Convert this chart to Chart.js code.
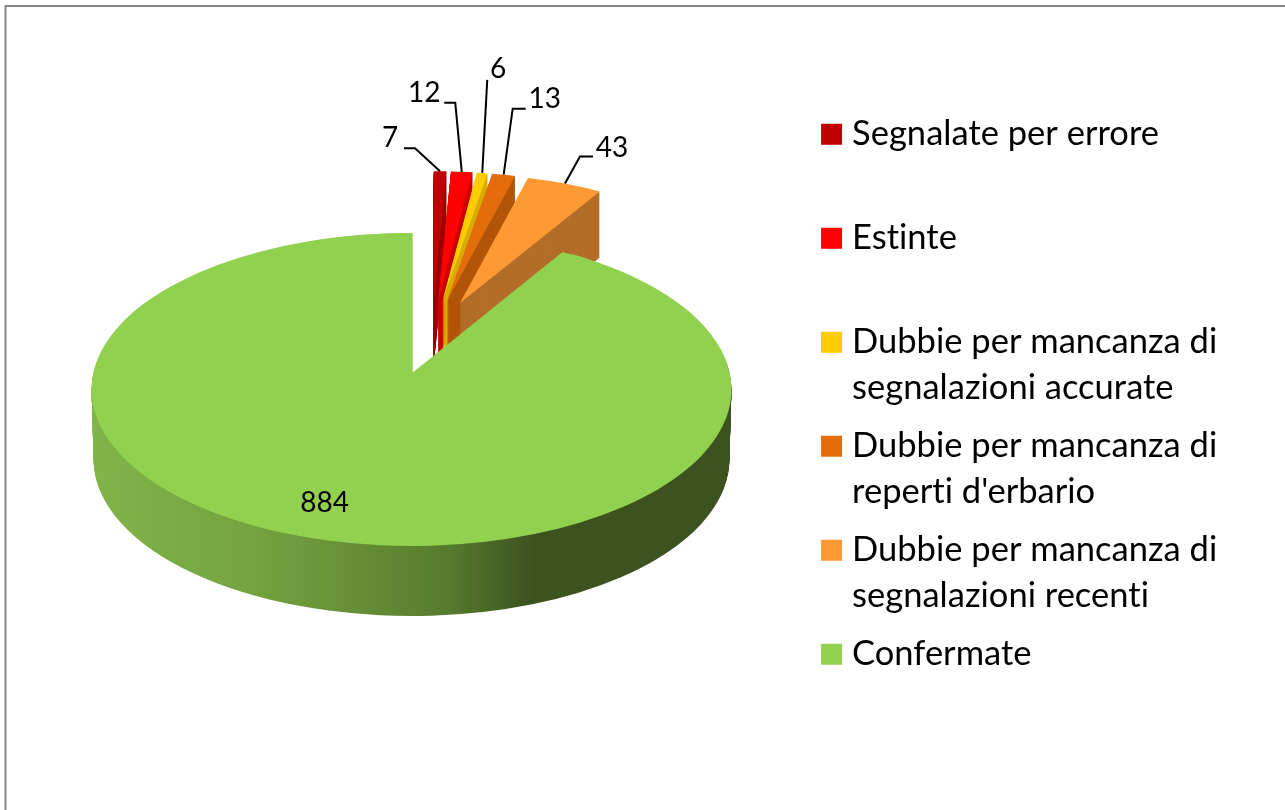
<!DOCTYPE html>
<html>
<head>
<meta charset="utf-8">
<title>Specie</title>
<script src="https://cdn.jsdelivr.net/npm/chart.js@4"></script>
<style>
  html, body { margin: 0; padding: 0; background: #fff; }
  canvas { display: block; }
</style>
</head>
<body>
<canvas id="pieChart" width="1285" height="810"></canvas>
<script>
const categories = [
    ['Segnalate per errore', ''],
    ['Estinte', ''],
    ['Dubbie per mancanza di', 'segnalazioni accurate'],
    ['Dubbie per mancanza di', "reperti d'erbario"],
    ['Dubbie per mancanza di', 'segnalazioni recenti'],
    ['Confermate', '']
];
const values = [7, 12, 6, 13, 43, 884];
const topColors = ['#c00000', '#ff0000', '#ffcc00', '#e46c0a', '#ff9933', '#92d050'];
const wallColors = ['#9c0000', '#cc0000', '#d9ad00', '#b25508', '#b36d28', '#3c5320'];

// 3D look: the big slice sits in front, the small ones are further back so smaller
const GREEN = 5;
const PIE = { x: 432, y: 337, explode: 74, tilt: 0.497 };
const FRONT = { x: 411.5, y: 389.5, rx: 320, ry: 156.5, depth: 70 };
const BACK = { rx: 278, ry: 129, depth: 66 };

// leader line points and text position, relative to the outer edge of the slice
const labelLayout = [
    { line: [[-25, -23], [-36, -23]], text: [-50, -33] },
    { line: [[-6.5, -69], [-17.5, -69]], text: [-37.5, -79] },
    { line: [[5, -93]], text: [16, -104] },
    { line: [[9, -66], [22, -66]], text: [41, -76] },
    { line: [[15, -27], [28, -27]], text: [47, -36] }
];

function drawArc(ctx, arc, color, x, y, rx, ry) {
    const copy = Object.create(arc);
    copy.options = {
        backgroundColor: color, borderColor: color, borderWidth: 0, borderAlign: 'center',
        borderRadius: 0, offset: 0, spacing: 0, circular: true
    };
    ctx.save();
    ctx.translate(x, y);
    ctx.scale(rx / arc.outerRadius, ry / arc.outerRadius);
    ctx.translate(-arc.x, -arc.y);
    copy.draw(ctx);
    ctx.restore();
}

function explodedCenter(arc) {
    const mid = (arc.startAngle + arc.endAngle) / 2;
    return {
        x: PIE.x + PIE.explode * Math.cos(mid),
        y: PIE.y + PIE.explode * Math.sin(mid) * PIE.tilt,
        mid: mid
    };
}

function greenWallGradient(ctx, arc) {
    const toUser = x => arc.x + (x - FRONT.x) * arc.outerRadius / FRONT.rx;
    const g = ctx.createLinearGradient(toUser(92), 0, toUser(731), 0);
    g.addColorStop(0, '#80b449');
    g.addColorStop(0.25, '#74a33f');
    g.addColorStop(0.41, '#658f37');
    g.addColorStop(0.56, '#567a2e');
    g.addColorStop(0.69, '#3c5320');
    g.addColorStop(1, '#3c5320');
    return g;
}

const pie3d = {
    id: 'pie3d',
    beforeDraw(chart) {
        // no "ti" ligature in Lato, the reference has none
        chart.ctx.letterSpacing = '0.01px';
    },
    beforeDatasetsDraw(chart) {
        const ctx = chart.ctx;
        const arcs = chart.getDatasetMeta(0).data;

        // small slices, left to right, each one over the wall of the previous one
        arcs.forEach((arc, i) => {
            if (i === GREEN) return;
            const c = explodedCenter(arc);
            for (let dy = BACK.depth; dy > 0; dy--) {
                drawArc(ctx, arc, wallColors[i], c.x, c.y + dy, BACK.rx, BACK.ry);
            }
            drawArc(ctx, arc, topColors[i], c.x, c.y, BACK.rx, BACK.ry);
        });

        // big slice: wall, then top. The second copy moves the tip up to where it is seen
        const big = arcs[GREEN];
        const wall = greenWallGradient(ctx, big);
        for (let dy = FRONT.depth; dy > 0; dy--) {
            drawArc(ctx, big, wall, FRONT.x, FRONT.y + dy, FRONT.rx - dy * 0.03, FRONT.ry);
        }
        drawArc(ctx, big, topColors[GREEN], FRONT.x, FRONT.y, FRONT.rx, FRONT.ry);
        const tip = explodedCenter(big);
        drawArc(ctx, big, topColors[GREEN], tip.x, tip.y, FRONT.rx * 0.93, tip.y - 233);
        return false;
    },
    // afterDatasetsDraw is skipped when beforeDatasetsDraw returns false
    afterDraw(chart) {
        const ctx = chart.ctx;
        const arcs = chart.getDatasetMeta(0).data;
        ctx.save();
        ctx.font = '28px Lato';
        ctx.textAlign = 'center';
        ctx.textBaseline = 'middle';
        ctx.fillStyle = '#000';
        ctx.strokeStyle = '#000';
        ctx.lineWidth = 2;
        labelLayout.forEach((lay, i) => {
            const c = explodedCenter(arcs[i]);
            const ax = c.x + BACK.rx * Math.cos(c.mid);
            const ay = c.y + BACK.ry * Math.sin(c.mid);
            ctx.beginPath();
            ctx.moveTo(ax, ay);
            lay.line.forEach(p => ctx.lineTo(ax + p[0], ay + p[1]));
            ctx.stroke();
            ctx.fillText(String(values[i]), ax + lay.text[0], ay + lay.text[1]);
        });
        const tip = explodedCenter(arcs[GREEN]);
        ctx.fillText(String(values[GREEN]), tip.x - 88, tip.y + 130);
        ctx.restore();

        // chart frame, only top and left are inside the picture
        ctx.save();
        ctx.strokeStyle = '#868686';
        ctx.lineWidth = 2;
        ctx.strokeRect(5.5, 6, 1400, 900);
        ctx.restore();
    }
};

new Chart(document.getElementById('pieChart'), {
    type: 'pie',
    data: {
        labels: categories,
        datasets: [{
            data: values,
            backgroundColor: topColors,
            borderWidth: 0
        }]
    },
    options: {
        responsive: false,
        animation: false,
        layout: { padding: { top: 104, right: 58, bottom: 0, left: 0 } },
        plugins: {
            tooltip: { enabled: false },
            legend: {
                position: 'right',
                align: 'start',
                labels: {
                    color: '#000',
                    font: { family: 'Lato', size: 34.5, lineHeight: 1.319 },
                    padding: 13,
                    boxWidth: 6.5,
                    boxHeight: 6.5,
                    generateLabels(chart) {
                        return categories.map((text, i) => ({
                            text: text,
                            fillStyle: topColors[i],
                            strokeStyle: topColors[i],
                            lineWidth: 14.5,
                            index: i
                        }));
                    }
                }
            }
        }
    },
    plugins: [pie3d]
});
</script>
</body>
</html>
